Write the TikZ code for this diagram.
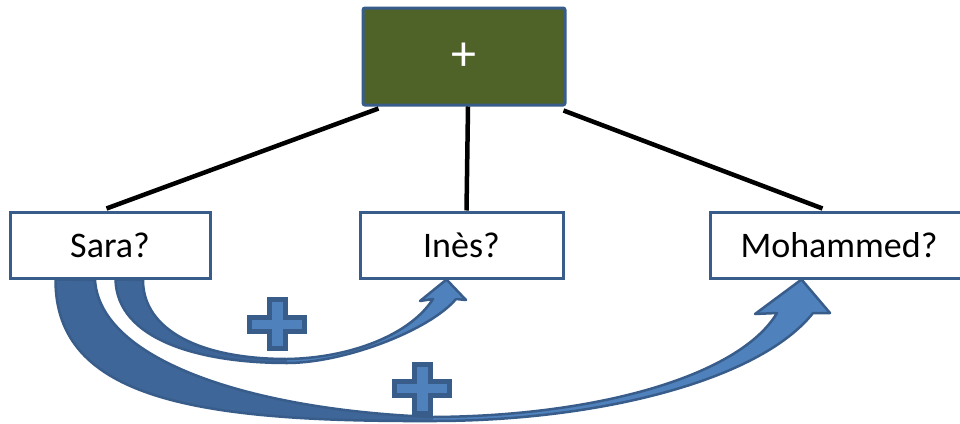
\documentclass[tikz,border=0pt]{standalone}
\usepackage{fontspec}
\setmainfont{Carlito}
\usetikzlibrary{calc}
\definecolor{boxline}{HTML}{385D8A}
\definecolor{olive}{HTML}{4F6228}
\definecolor{arrowlight}{HTML}{4F81BD}
\definecolor{arrowdark}{HTML}{3F6699}
\begin{document}
\begin{tikzpicture}[x=1pt,y=-1pt,
  namebox/.style={draw=boxline,line width=3pt,fill=white,minimum height=66pt,inner sep=0pt,
    font=\fontsize{36}{40}\selectfont,text=black},
  topbox/.style={draw=boxline,line width=3pt,fill=olive,minimum width=202pt,minimum height=97pt,
    rounded corners=2pt,font=\fontsize{50}{54}\selectfont,text=white},
  link/.style={line width=4.5pt,black},
  arrowborder/.style={draw=boxline,line width=2.5pt,line join=round},
  plussign/.style={draw=boxline,line width=5pt,fill=arrowlight,line join=miter}]
\useasboundingbox (0,0) rectangle (960,423);
\fill[white] (0,0) rectangle (960,423);

\node[topbox] (top) at (464,56.5) {+};
\node[namebox,minimum width=200pt] (sara) at (110,245) {Sara?};
\node[namebox,minimum width=203pt] (ines) at (461.5,245) {Inès?};
\node[namebox,minimum width=258pt] (moh) at (839,245) {Mohammed?};

% connectors
\coordinate (t1) at ($(top.south west)+(17,2)$);
\coordinate (t2) at ($(top.south)+(4,0)$);
\coordinate (t3) at ($(top.south east)+(-3,4)$);
\coordinate (s1) at ($(sara.north west)+(98,-2)$);
\coordinate (i1) at ($(ines.north west)+(108,0)$);
\coordinate (m1) at ($(moh.north west)+(114,-2)$);
\draw[link] (t1) -- (s1);
\draw[link] (t2) -- (i1);
\draw[link] (t3) -- (m1);

% curved arrow Sara -> Mohammed
\coordinate (a2s) at ($(sara.south west)+(47,0)$);
\coordinate (a2tip) at ($(moh.south west)+(93,0)$);
\def\arrowtwo{(a2s) .. controls (55,400) and (200,422) .. (433,421)
  .. controls (600,421) and (760,380) .. (813,313)
  -- (830,313) -- (a2tip) -- (755,314) -- (777,313)
  .. controls (740,375) and (600,416) .. (433,417)
  .. controls (250,410) and (100,360) .. (95,280) -- cycle}
\fill[arrowlight] \arrowtwo;
\begin{scope}
  \clip \arrowtwo;
  \fill[arrowdark] (0,270) rectangle (433,430);
\end{scope}
\draw[arrowborder] \arrowtwo;

% curved arrow Sara -> Ines
\coordinate (a1s) at ($(sara.south west)+(107,0)$);
\coordinate (a1tip) at ($(ines.south west)+(88,0)$);
\def\arrowone{(a1s) .. controls (117,340) and (200,363) .. (287,363)
  .. controls (345,363) and (430,330) .. (456,299)
  -- (466,300) -- (a1tip) -- (420,301) -- (433,299)
  .. controls (410,335) and (350,358) .. (287,359)
  .. controls (200,359) and (143,330) .. (143,280) -- cycle}
\fill[arrowlight] \arrowone;
\begin{scope}
  \clip \arrowone;
  \fill[arrowdark] (0,270) rectangle (287,370);
\end{scope}
\draw[arrowborder] \arrowone;

% plus signs
\node[inner sep=0pt] (p1) at (277,324) {};
\node[inner sep=0pt] (p2) at (422,388.5) {};
\foreach \p in {p1,p2}{
  \draw[plussign] ($(\p)+(-8,-24.5)$) -- ($(\p)+(8,-24.5)$) -- ($(\p)+(8,-7)$) -- ($(\p)+(27.5,-7)$)
    -- ($(\p)+(27.5,7)$) -- ($(\p)+(8,7)$) -- ($(\p)+(8,24.5)$) -- ($(\p)+(-8,24.5)$)
    -- ($(\p)+(-8,7)$) -- ($(\p)+(-27.5,7)$) -- ($(\p)+(-27.5,-7)$) -- ($(\p)+(-8,-7)$) -- cycle;
}
\end{tikzpicture}
\end{document}
